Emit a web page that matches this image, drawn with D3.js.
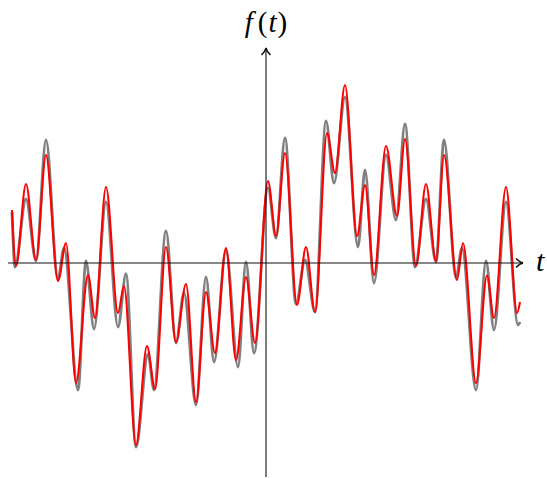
<!DOCTYPE html>
<html>
<head>
<meta charset="utf-8">
<script src="https://cdn.jsdelivr.net/npm/d3@7"></script>
<style>
  body { margin: 0; background: #fff; }
  svg { display: block; }
</style>
</head>
<body>
<script>
// sample points (t, f(t)): local extrema of each curve
const tGray = [-1.27, -1.255, -1.2, -1.15, -1.1, -1.04, -1.01, -0.94, -0.9, -0.86,
    -0.8, -0.74, -0.7, -0.65, -0.59, -0.56, -0.5, -0.45, -0.41, -0.35,
    -0.3, -0.26, -0.2, -0.14, -0.1, -0.06, 0.01, 0.05, 0.095, 0.15,
    0.195, 0.245, 0.3, 0.34, 0.395, 0.46, 0.495, 0.54, 0.6, 0.65,
    0.695, 0.745, 0.8, 0.85, 0.89, 0.95, 0.98, 1.05, 1.1, 1.14,
    1.2, 1.26, 1.27]
const fGray = [0.51, -0.04, 0.64, 0.02, 1.23, -0.16, 0.15, -1.27, 0.02, -0.66,
    0.61, -0.64, -0.11, -1.84, -0.91, -1.27, 0.32, -0.8, -0.3, -1.42,
    -0.14, -0.99, 0.13, -1.04, 0.01, -0.9, 0.75, 0.25, 1.25, -0.41,
    0.03, -0.49, 1.42, 0.8, 1.66, 0.16, 0.93, -0.2, 1.08, 0.43,
    1.39, -0.04, 0.64, 0.01, 1.23, -0.15, 0.15, -1.27, 0.02, -0.67,
    0.61, -0.62, -0.59]

const tRed = [-1.27, -1.25, -1.2, -1.15, -1.1, -1.04, -1.0, -0.95, -0.89, -0.855,
    -0.8, -0.74, -0.71, -0.65, -0.595, -0.555, -0.5, -0.45, -0.4, -0.35,
    -0.3, -0.255, -0.2, -0.15, -0.1, -0.055, 0.01, 0.05, 0.095, 0.155,
    0.2, 0.245, 0.305, 0.345, 0.395, 0.455, 0.495, 0.54, 0.6, 0.655,
    0.695, 0.75, 0.8, 0.85, 0.89, 0.955, 0.985, 1.05, 1.105, 1.14,
    1.2, 1.255, 1.27]
const fRed = [0.53, -0.03, 0.79, 0.03, 1.08, -0.18, 0.2, -1.2, -0.12, -0.55,
    0.76, -0.5, -0.23, -1.82, -0.83, -1.26, 0.16, -0.79, -0.21, -1.39,
    -0.29, -0.9, 0.15, -0.97, -0.14, -0.8, 0.82, 0.27, 1.1, -0.42,
    0.16, -0.49, 1.3, 0.9, 1.78, 0.27, 0.78, -0.12, 1.17, 0.47,
    1.24, -0.03, 0.79, 0.02, 1.08, -0.17, 0.2, -1.2, -0.125, -0.55,
    0.76, -0.5, -0.39]

const tRange = [-1.29, 1.285]
const fRange = [-2.14, 2.15]

const width = 547
const height = 478

let svg = d3.select('body').append('svg')
    .attr('width', width)
    .attr('height', height)

let x = d3.scaleLinear().domain([-1, 1]).range([66, 466])
let y = d3.scaleLinear().domain([-1, 1]).range([363, 163])

let line = d3.line()
    .x(d => x(d[0]))
    .y(d => y(d[1]))
    .curve(d3.curveMonotoneX)

svg.append('path')
    .datum(d3.zip(tGray, fGray))
    .attr('d', line)
    .attr('fill', 'none')
    .attr('stroke', '#808080')
    .attr('stroke-width', 2.8)

svg.append('path')
    .datum(d3.zip(tRed, fRed))
    .attr('d', line)
    .attr('fill', 'none')
    .attr('stroke', '#ff0000')
    .attr('stroke-width', 2.1)

// axes with latex-like arrow tips
let ax = svg.append('g').attr('stroke', '#111').attr('fill', 'none')
ax.append('line')
    .attr('x1', x(tRange[0])).attr('x2', x(tRange[1]))
    .attr('y1', y(0)).attr('y2', y(0))
    .attr('stroke-width', 1.1)
ax.append('line')
    .attr('x1', x(0)).attr('x2', x(0))
    .attr('y1', y(fRange[0])).attr('y2', y(fRange[1]))
    .attr('stroke-width', 1.1)

let tipX = x(tRange[1]), tipY = y(fRange[1])
ax.append('path')
    .attr('d', 'M' + (tipX - 7) + ',' + (y(0) - 4.5) + ' Q' + (tipX - 3) + ',' + (y(0) - 0.6) +
        ' ' + tipX + ',' + y(0) + ' Q' + (tipX - 3) + ',' + (y(0) + 0.6) + ' ' +
        (tipX - 7) + ',' + (y(0) + 4.5))
    .attr('stroke-width', 1.4)
ax.append('path')
    .attr('d', 'M' + (x(0) - 4.5) + ',' + (tipY + 7) + ' Q' + (x(0) - 0.6) + ',' + (tipY + 3) +
        ' ' + x(0) + ',' + tipY + ' Q' + (x(0) + 0.6) + ',' + (tipY + 3) + ' ' +
        (x(0) + 4.5) + ',' + (tipY + 7))
    .attr('stroke-width', 1.4)

// labels
let fl = svg.append('text')
    .attr('x', x(0))
    .attr('y', 32)
    .attr('text-anchor', 'middle')
    .attr('font-family', 'Liberation Serif, serif')
    .attr('font-size', 29)
fl.append('tspan').attr('font-style', 'italic').text('f')
fl.append('tspan').attr('dx', 5).text('(')
fl.append('tspan').attr('dx', 1).attr('font-style', 'italic').text('t')
fl.append('tspan').attr('dx', 1).text(')')

svg.append('text')
    .attr('x', tipX + 13)
    .attr('y', y(0) + 8)
    .attr('font-family', 'Liberation Serif, serif')
    .attr('font-style', 'italic')
    .attr('font-size', 30)
    .text('t')
</script>
</body>
</html>
